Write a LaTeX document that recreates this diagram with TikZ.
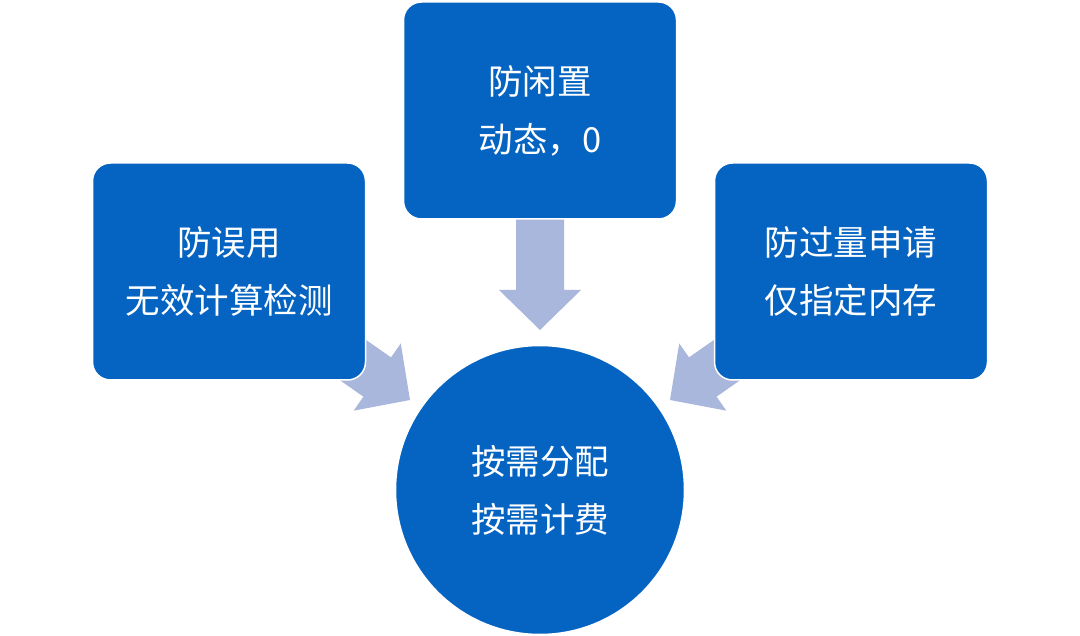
\documentclass[tikz,border=0pt]{standalone}
\usepackage{fontspec}
\newfontfamily\cjk{Noto Sans CJK SC}
\definecolor{boxblue}{HTML}{0563C1}
\definecolor{arrowfill}{HTML}{A9B7DC}
\begin{document}
\begin{tikzpicture}[x=1pt,y=-1pt,
  box/.style={draw=white, line width=1.5pt, fill=boxblue, rounded corners=18pt,
    minimum width=273pt, minimum height=217pt, text=white,
    font=\cjk\fontsize{34.5}{58}\selectfont, align=center, inner sep=0pt},
  hubstyle/.style={circle, draw=white, line width=1.5pt, fill=boxblue, minimum size=289pt,
    text=white, font=\cjk\fontsize{34.5}{58}\selectfont, align=center, inner sep=0pt},
  blockarrow/.style={fill=arrowfill}]
\fill[white] (0,0) rectangle (1080,636);
\useasboundingbox (0,0) rectangle (1080,636);
% arrow tips
\coordinate (tipT) at (540,330);
\coordinate (tipL) at (410,400);
\coordinate (tipR) at (670,400);
\foreach \t/\a in {tipT/-90, tipL/-35, tipR/-145}{
  \fill[blockarrow, shift={(\t)}, rotate=\a]
    (0,0) -- (-40,41) -- (-40,24) -- (-115,24) -- (-115,-24) -- (-40,-24) -- (-40,-41) -- cycle;
}
\node[box] (top) at (540,110.5) {防闲置\\动态，0};
\node[box] (left) at (229,271.5) {防误用\\无效计算检测};
\node[box] (right) at (851,271.5) {防过量申请\\仅指定内存};
\node[hubstyle] (hub) at (540,490) {按需分配\\按需计费};
\end{tikzpicture}
\end{document}
